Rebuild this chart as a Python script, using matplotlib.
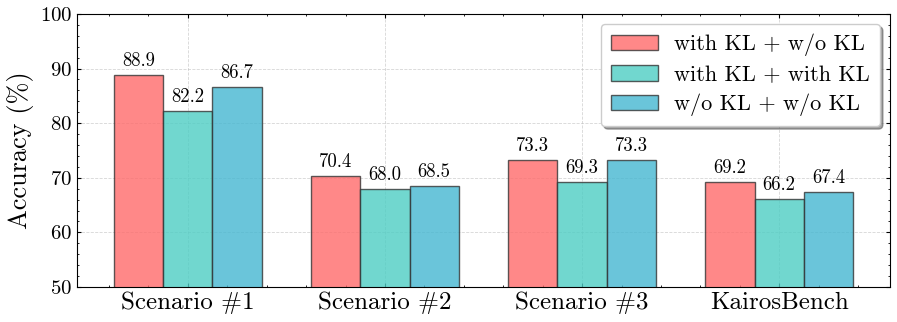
import numpy as np
import matplotlib
matplotlib.use('Agg')
import matplotlib.pyplot as plt
from matplotlib.ticker import AutoMinorLocator, MultipleLocator

categories = ['Scenario #1', 'Scenario #2', 'Scenario #3', 'KairosBench']
series_names = ['with KL + w/o KL', 'with KL + with KL', 'w/o KL + w/o KL']
with_wo = [88.9, 70.4, 73.3, 69.2]
with_with = [82.2, 68.0, 69.3, 66.2]
wo_wo = [86.7, 68.5, 73.3, 67.4]
colors = ['#FF6B6B', '#4ECDC4', '#45B7D1']

plt.rcParams['font.family'] = ['cmr10', 'DejaVu Serif']
plt.rcParams['mathtext.fontset'] = 'cm'
plt.rcParams['axes.formatter.use_mathtext'] = True
plt.rcParams['axes.unicode_minus'] = False

fig = plt.figure(figsize=(8.97, 3.22), dpi=100)
ax = fig.add_axes([0.0858, 0.1087, 0.9065, 0.848])

x = np.arange(len(categories))
width = 0.25
for i, (vals, name) in enumerate(zip([with_wo, with_with, wo_wo], series_names)):
    pos = x + (i - 1) * width
    bars = ax.bar(pos, vals, width, label=name, color=colors[i], alpha=0.8,
                  edgecolor='#333333', linewidth=1.0)
    for b, v in zip(bars, vals):
        ax.text(b.get_x() + b.get_width() / 2, v + 0.9, f'{v:.1f}',
                ha='center', va='bottom', fontsize=13.5)

ax.set_ylim(50, 100)
ax.set_xticks(x)
ax.set_xticklabels(categories, fontsize=18)
ax.set_ylabel('Accuracy (%)', fontsize=19)
ax.tick_params(axis='y', labelsize=15)
ax.yaxis.set_major_locator(MultipleLocator(10))
ax.yaxis.set_minor_locator(AutoMinorLocator(5))
ax.xaxis.set_minor_locator(AutoMinorLocator(5))
ax.tick_params(which='both', direction='in', top=True, right=True)
ax.tick_params(which='major', length=3)
ax.tick_params(which='minor', length=1.5)
ax.set_axisbelow(True)
ax.grid(True, linestyle='--', color='#bbbbbb', linewidth=0.6, alpha=0.6)

leg = ax.legend(loc='upper right', fontsize=16, frameon=True, fancybox=True,
                shadow=True, framealpha=1, handlelength=2.1,
                borderpad=0.45, labelspacing=0.4, handletextpad=0.75,
                borderaxespad=0.45)
leg.get_frame().set_edgecolor('#cccccc')

fig.savefig('out.png', dpi=100)
